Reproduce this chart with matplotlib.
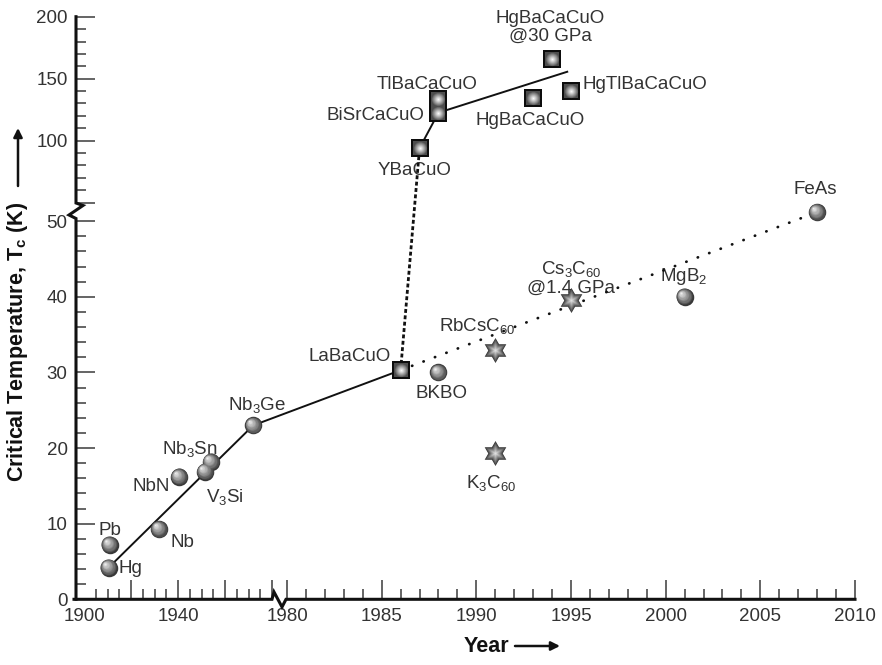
import numpy as np
import matplotlib
matplotlib.use('Agg')
import matplotlib.pyplot as plt
from matplotlib.path import Path
from matplotlib.transforms import offset_copy

plt.rcParams['font.family'] = ['Liberation Sans', 'DejaVu Sans']
plt.rcParams['mathtext.fontset'] = 'custom'
plt.rcParams['mathtext.rm'] = 'Liberation Sans'
plt.rcParams['mathtext.it'] = 'Liberation Sans:italic'
plt.rcParams['mathtext.bf'] = 'Liberation Sans:bold'
plt.rcParams['mathtext.default'] = 'regular'

# ---------------- data ----------------
sphere_names = ['Hg', 'Pb', 'Nb', 'NbN', 'V$_3$Si', 'Nb$_3$Sn', 'Nb$_3$Ge', 'BKBO', 'MgB$_2$', 'FeAs']
sphere_year = [1910.5, 1911, 1932, 1940.5, 1951.5, 1954, 1972, 1988, 2001, 2008]
sphere_tc = [4.2, 7.2, 9.3, 16.2, 16.9, 18.2, 23.0, 30.0, 40.0, 51.2]

cuprate_names = ['LaBaCuO', 'YBaCuO', 'BiSrCaCuO', 'TlBaCaCuO', 'HgBaCaCuO',
                 'HgBaCaCuO\n@30 GPa', 'HgTlBaCaCuO']
cuprate_year = [1986, 1987, 1988, 1988, 1993, 1994, 1995]
cuprate_tc = [30.3, 94, 122.6, 133.4, 134.2, 165.6, 140]

fulleride_names = ['RbCsC$_{60}$', 'K$_3$C$_{60}$', 'Cs$_3$C$_{60}$\n@1.4 GPa']
fulleride_year = [1991, 1991, 1995]
fulleride_tc = [33, 19.3, 39.6]

trend_low_year = [1910.5, 1972, 1986]
trend_low_tc = [4.2, 23.0, 30.3]
trend_high_year = [1987, 1988, 1994.8]
trend_high_tc = [94, 122.6, 155.6]
jump_year = [1986, 1987]
jump_tc = [30.3, 94]
dotted_year = [1986, 2008]
dotted_tc = [30.3, 51.2]

x_major = [1900, 1920, 1940, 1960, 1979.9, 1980, 1985, 1990, 1995, 2000, 2005, 2010]
x_major_labels = ['1900', '', '1940', '', '', '1980', '1985', '1990', '1995', '2000', '2005', '2010']
x_minor = [y for y in range(1905, 1980, 5) if y % 20] + [y for y in range(1981, 2010) if y % 5]
y_major = [0, 10, 20, 30, 40, 50, 52.447, 100, 150, 200]
y_major_labels = ['0', '10', '20', '30', '40', '50', '', '100', '150', '200']
y_minor = [v for v in range(2, 50, 2) if v % 10] + [60, 70, 80, 90, 110, 120, 130, 140, 160, 170, 180, 190]

# ---------------- layout ----------------
sphere_lab = [(7.2, -1, 'left'), (0, 10, 'center'), (8, -9.4, 'left'), (-6.5, -7.3, 'right'),
              (0.7, -18.4, 'left'), (-15, 9.1, 'center'), (3, 14.7, 'center'), (2, -15.5, 'center'),
              (-1, 14.3, 'center'), (-1.4, 16, 'center')]
cuprate_lab = [(-7, 10, 'right'), (-3.3, -15.8, 'center'), (-10.4, -1.7, 'right'),
               (-7.9, 10.7, 'center'), (-2.2, -16.3, 'center'), (-1.4, 23.3, 'center'),
               (8.6, 4.4, 'left')]
fulleride_lab = [(-12.7, 17, 'center'), (-2.7, -21.3, 'center'), (0, 15.5, 'center')]

# piecewise (broken) scales, in pixel units
XS = 1979.9
def fx(x):
    x = np.asarray(x, float)
    return np.where(x <= XS, 84 + (x - 1900) * 2.35, 287 + (x - 1980) * 18.93)

def fx_inv(u):
    u = np.asarray(u, float)
    left = 1900 + (u - 84) / 2.35
    right = 1980 + (u - 287) / 18.93
    return np.where(u <= 84 + (XS - 1900) * 2.35, left,
                    np.where(u >= 287 + (XS - 1980) * 18.93, right, XS))

YS = 52.5
def fy(y):
    y = np.asarray(y, float)
    return np.where(y <= YS, y * 7.562, 396.6 + (y - 50) * 1.24)

def fy_inv(h):
    h = np.asarray(h, float)
    return np.where(h <= YS * 7.562, h / 7.562,
                    np.where(h >= 396.6 + (YS - 50) * 1.24, 50 + (h - 396.6) / 1.24, YS))

W, H = 882, 665
fig = plt.figure(figsize=(W / 100, H / 100), dpi=100)
ax = fig.add_axes([76 / W, (H - 599.3) / H, 779 / W, 582.6 / H])
ax.set_xscale('function', functions=(fx, fx_inv))
ax.set_yscale('function', functions=(fy, fy_inv))
ax.set_xlim(1900 - 8 / 2.35, 2010)
ax.set_ylim(0, 200)

for s in ax.spines.values():
    s.set_visible(False)

ax.set_xticks(x_major)
ax.set_xticklabels(x_major_labels)
ax.set_xticks(x_minor, minor=True)
ax.set_yticks(y_major)
ax.set_yticklabels(y_major_labels)
ax.set_yticks(y_minor, minor=True)
ax.tick_params(which='both', direction='in', color='#3a3a3a', width=1.1,
               labelsize=13.5, labelcolor='#333333')
ax.tick_params(which='major', length=14)
ax.tick_params(which='minor', length=7.5)
ax.tick_params(axis='y', pad=6)
ax.tick_params(axis='x', pad=6)
ax.xaxis.get_major_ticks()[0].tick1line.set_visible(False)

# broken spines (axes-fraction coordinates from pixel positions)
def px2ax(pts):
    return [(p[0] - 76) / 779 for p in pts], [(599.3 - p[1]) / 582.6 for p in pts]

bx, by = px2ax([(74, 599.3), (272, 599.3), (274, 592), (282, 607), (286, 599.3), (855, 599.3)])
ax.plot(bx, by, transform=ax.transAxes, color='#111111', lw=2.2, clip_on=False,
        solid_joinstyle='miter', zorder=5)
lx, ly = px2ax([(76, 599.3), (76, 218.5), (69, 215), (83, 205.5), (76, 203), (76, 16.7)])
ax.plot(lx, ly, transform=ax.transAxes, color='#111111', lw=2.2, clip_on=False,
        solid_joinstyle='miter', zorder=5)

# lines
ax.plot(trend_low_year, trend_low_tc, color='#111111', lw=1.4, zorder=2, clip_on=False)
ax.plot(trend_high_year, trend_high_tc, color='#111111', lw=1.4, zorder=2, clip_on=False)
ax.plot(jump_year, jump_tc, color='#111111', lw=2.0, linestyle=(0, (1.4, 0.9)), zorder=2)
ax.plot(dotted_year, dotted_tc, color='#111111', lw=2.0, linestyle=(0, (0.1, 4.3)),
        dash_capstyle='round', zorder=2)

# shaded markers
def shaded(xs, ys, marker, size_pt, g_out, g_in, off, n=12, z=3.0, inner=None):
    inner = marker if inner is None else inner
    for i in range(n):
        t = i / (n - 1)
        frac = 1 - 0.92 * t
        g = g_out + (g_in - g_out) * t ** 0.9
        tr = offset_copy(ax.transData, fig=fig, x=off[0] * t * size_pt / 2,
                         y=off[1] * t * size_pt / 2, units='points')
        ax.scatter(xs, ys, s=(size_pt * frac) ** 2, marker=marker if i == 0 else inner,
                   color=(g, g, g), linewidths=0, transform=tr,
                   zorder=z + 0.01 * (i + 1), clip_on=False)

shaded(sphere_year, sphere_tc, 'o', 12.6, 0.22, 0.93, (-0.45, 0.45))
# squares: black frame, dark fill, radial glow
ax.scatter(cuprate_year, cuprate_tc, s=12.6 ** 2, marker='s', color='#0d0d0d',
           linewidths=0, zorder=3)
shaded(cuprate_year, cuprate_tc, 's', 12.6 * 0.82, 0.30, 0.98, (0, 0), z=3.2, inner='o')
hexagram = Path.unit_regular_star(6, 0.577)
shaded(fulleride_year, fulleride_tc, hexagram, 18, 0.22, 0.88, (0, 0))

# labels
def labels(names, xs, ys, lay):
    for nm, x, y, (dx, dy, ha) in zip(names, xs, ys, lay):
        ax.annotate(nm, (x, y), xytext=(dx, dy), textcoords='offset points', ha=ha,
                    va='center', fontsize=13.5, color='#333333', linespacing=1.05,
                    multialignment='center', zorder=1, annotation_clip=False)

labels(sphere_names, sphere_year, sphere_tc, sphere_lab)
labels(cuprate_names, cuprate_year, cuprate_tc, cuprate_lab)
labels(fulleride_names, fulleride_year, fulleride_tc, fulleride_lab)

# axis titles with arrows
fig.text(18 / W, (H - 342) / H, 'Critical Temperature, T$_c$ (K)', rotation=90,
         ha='center', va='center', fontsize=15.5, fontweight='bold', color='#111111')
ax.annotate('', xy=(18, H - 128), xytext=(18, H - 186), xycoords='figure pixels',
            textcoords='figure pixels',
            arrowprops=dict(arrowstyle='-|>', color='#111111', lw=1.8, mutation_scale=13,
                            shrinkA=0, shrinkB=0))
fig.text(486 / W, (H - 646) / H, 'Year', ha='center', va='center', fontsize=15.5,
         fontweight='bold', color='#111111')
ax.annotate('', xy=(560, H - 646), xytext=(515, H - 646), xycoords='figure pixels',
            textcoords='figure pixels',
            arrowprops=dict(arrowstyle='-|>', color='#111111', lw=1.8, mutation_scale=13,
                            shrinkA=0, shrinkB=0))

fig.savefig('out.png', dpi=100)
